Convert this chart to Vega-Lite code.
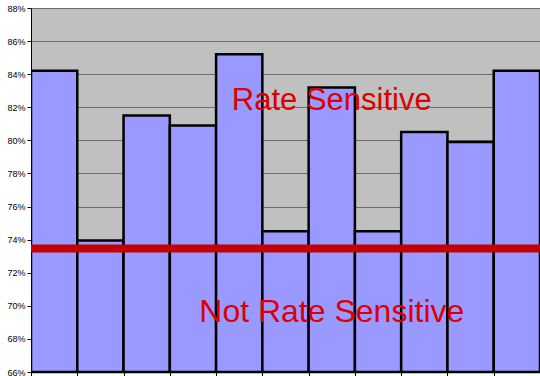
{
  "$schema": "https://vega.github.io/schema/vega-lite/v6.json",
  "width": 509,
  "height": 364,
  "autosize": {"type": "none"},
  "padding": {"left": 31, "top": 8, "right": 0, "bottom": 4},
  "background": "white",
  "config": {
    "view": {"fill": "#c0c0c0", "stroke": null},
    "font": "Liberation Sans"
  },
  "datasets": {
    "bars": [
      {"group": "1", "share": 0.842},
      {"group": "2", "share": 0.7395},
      {"group": "3", "share": 0.815},
      {"group": "4", "share": 0.809},
      {"group": "5", "share": 0.852},
      {"group": "6", "share": 0.745},
      {"group": "7", "share": 0.832},
      {"group": "8", "share": 0.745},
      {"group": "9", "share": 0.805},
      {"group": "10", "share": 0.799},
      {"group": "11", "share": 0.842}
    ],
    "threshold": [{"share": 0.7347}],
    "labels": [
      {"group": "7", "share": 0.8235, "label": "Rate Sensitive", "size": 31},
      {"group": "7", "share": 0.696, "label": "Not Rate Sensitive", "size": 32}
    ]
  },
  "layer": [
    {
      "data": {"name": "bars"},
      "mark": {"type": "bar", "fill": "#9999ff", "stroke": "black", "strokeWidth": 2.5, "clip": true},
      "encoding": {
        "x": {
          "field": "group", "type": "ordinal", "sort": null,
          "scale": {"paddingInner": 0, "paddingOuter": 0},
          "axis": {"title": null, "labels": false, "tickBand": "extent", "domainColor": "black", "domainWidth": 1.5, "tickColor": "black", "tickSize": 4}
        },
        "y": {
          "field": "share", "type": "quantitative",
          "scale": {"domain": [0.66, 0.88], "zero": false, "nice": false},
          "axis": {"title": null, "format": ".0%", "values": [0.66, 0.68, 0.70, 0.72, 0.74, 0.76, 0.78, 0.80, 0.82, 0.84, 0.86, 0.88], "tickCount": 30, "labelOverlap": false, "labelFlush": false, "grid": true, "gridColor": "#6e6e6e", "gridWidth": 1.2, "gridOpacity": 1, "domainColor": "black", "domainWidth": 1, "tickColor": "black", "tickSize": 4, "labelFontSize": 9, "labelColor": "black", "labelPadding": 2}
        },
        "y2": {"datum": 0.66}
      }
    },
    {
      "data": {"name": "threshold"},
      "mark": {"type": "rule", "color": "#c40000", "strokeWidth": 8},
      "encoding": {
        "y": {"field": "share", "type": "quantitative"}
      }
    },
    {
      "data": {"name": "labels"},
      "mark": {"type": "text", "color": "#dd0000", "align": "center", "baseline": "middle", "font": "Liberation Sans"},
      "encoding": {
        "x": {"field": "group", "type": "ordinal", "sort": null},
        "y": {"field": "share", "type": "quantitative"},
        "text": {"field": "label"},
        "size": {"field": "size", "type": "quantitative", "scale": null, "legend": null}
      }
    }
  ]
}
